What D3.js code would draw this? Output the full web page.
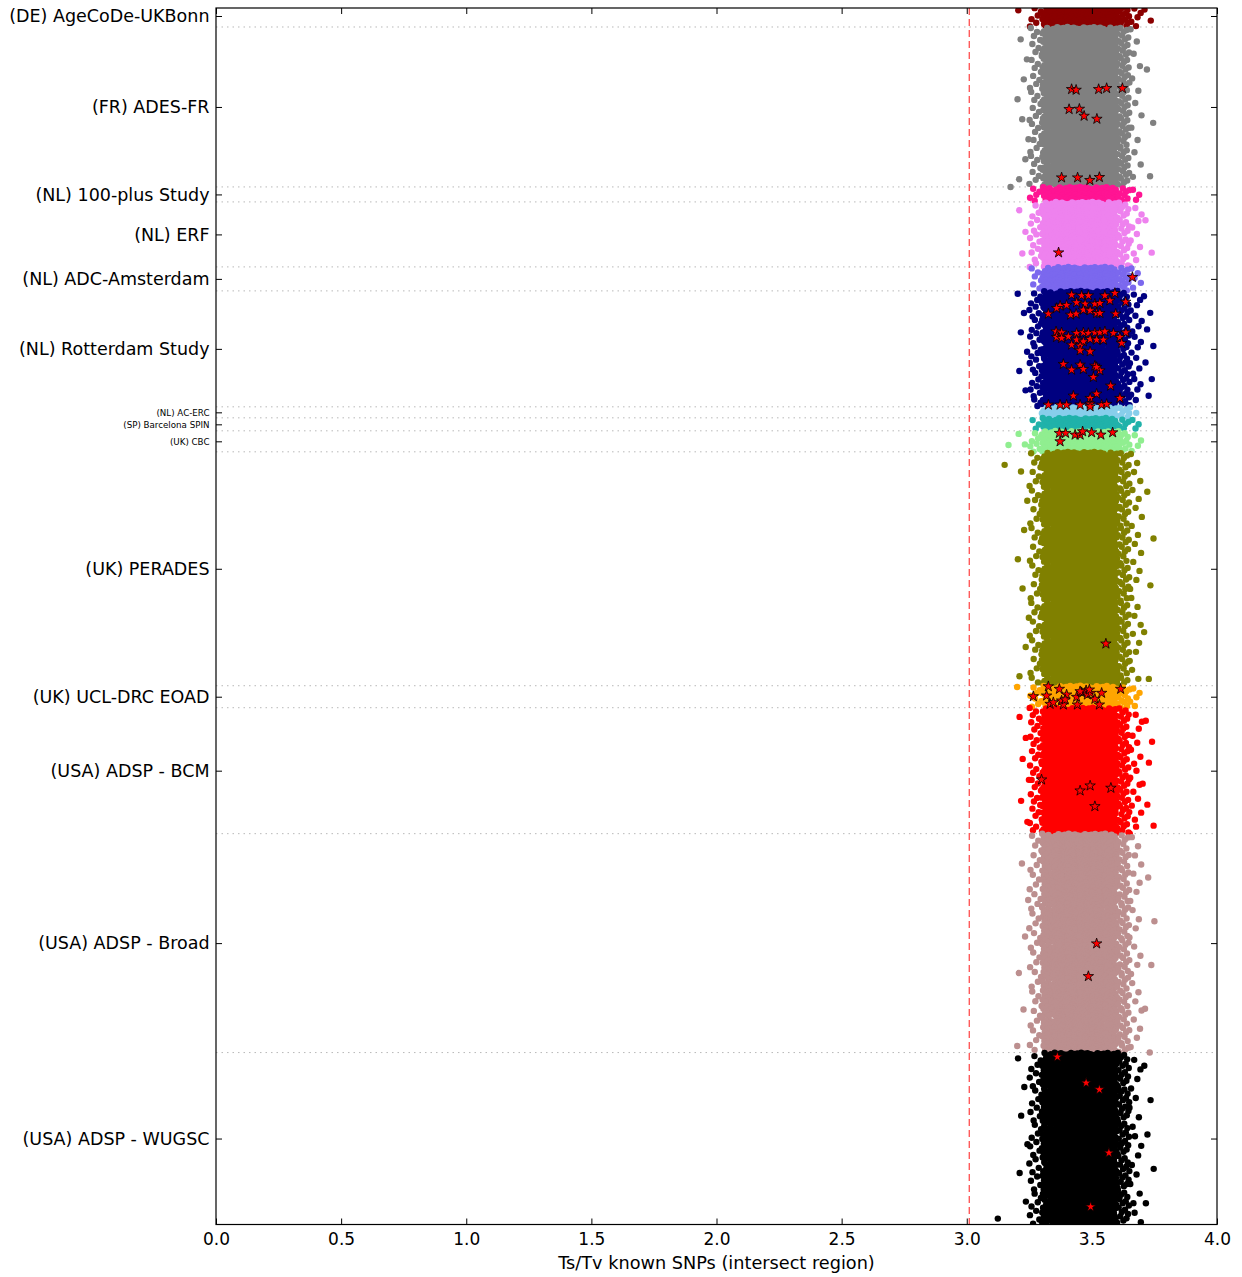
<!DOCTYPE html>
<html>
<head>
<meta charset="utf-8">
<script src="https://cdn.jsdelivr.net/npm/d3@7"></script>
<style>
  body { margin: 0; background: #fff; }
  svg text { font-family: "DejaVu Sans", "Liberation Sans", sans-serif; fill: #000; }
</style>
</head>
<body>
<svg id="chart" width="1242" height="1277"></svg>
<script>
// Sequencing cohorts, top to bottom, with their plotting colours.
const cohorts = [
  "(DE) AgeCoDe-UKBonn", "(FR) ADES-FR", "(NL) 100-plus Study", "(NL) ERF",
  "(NL) ADC-Amsterdam", "(NL) Rotterdam Study", "(NL) AC-ERC", "(SP) Barcelona SPIN",
  "(UK) CBC", "(UK) PERADES", "(UK) UCL-DRC EOAD", "(USA) ADSP - BCM",
  "(USA) ADSP - Broad", "(USA) ADSP - WUGSC"
];
const cohortColors = [
  "#8b0000", "#808080", "#ff1493", "#ee82ee", "#7b68ee", "#000080", "#87ceeb",
  "#20b2aa", "#90ee90", "#808000", "#ffa500", "#ff0000", "#bc8f8f", "#000000"
];
// Cohorts whose names are printed in a small font (very few samples).
const smallLabelCohorts = ["(NL) AC-ERC", "(SP) Barcelona SPIN", "(UK) CBC"];

// Ts/Tv histogram bins (lower edges, bin width 0.05).
const tstvBins = [3.10, 3.15, 3.20, 3.25, 3.30, 3.35, 3.40, 3.45, 3.50, 3.55, 3.60, 3.65, 3.70, 3.75];
const tstvBinWidth = 0.05;
// Number of samples of each cohort falling in each Ts/Tv bin.
const sampleCounts = [
  [0, 0, 1, 6, 18, 30, 38, 40, 38, 28, 14, 5, 2, 0],
  [0, 1, 8, 40, 150, 255, 293, 302, 260, 190, 85, 13, 3, 0],
  [0, 0, 0, 5, 14, 22, 27, 28, 24, 18, 9, 3, 0, 0],
  [0, 0, 3, 18, 60, 100, 121, 126, 105, 75, 30, 10, 2, 0],
  [0, 0, 0, 6, 22, 36, 42, 44, 40, 30, 15, 5, 0, 0],
  [0, 0, 6, 35, 110, 180, 208, 207, 185, 140, 60, 22, 7, 0],
  [0, 0, 0, 0, 10, 18, 22, 22, 18, 12, 6, 2, 0, 0],
  [0, 0, 0, 3, 12, 22, 25, 25, 20, 14, 6, 3, 0, 0],
  [0, 1, 2, 8, 20, 32, 38, 38, 32, 24, 11, 4, 0, 0],
  [0, 1, 8, 50, 200, 380, 450, 460, 400, 260, 100, 26, 5, 0],
  [0, 0, 1, 8, 22, 34, 40, 40, 34, 24, 12, 5, 0, 0],
  [0, 0, 6, 35, 120, 200, 230, 228, 200, 155, 62, 18, 6, 0],
  [0, 0, 6, 45, 190, 350, 423, 432, 370, 245, 100, 24, 5, 0],
  [1, 0, 6, 40, 150, 275, 322, 328, 290, 205, 80, 18, 5, 0]
];

// Flagged samples (stars): Ts/Tv value and overall sample index.
const starTsTv = [
  3.419, 3.437, 3.527, 3.559, 3.622, 3.409, 3.450, 3.469, 3.520, 3.379, 3.443, 3.492, 3.530,
  3.367, 3.662,
  3.419, 3.459, 3.486, 3.552, 3.592, 3.572, 3.635, 3.439, 3.473, 3.512, 3.532, 3.373, 3.399, 3.359,
  3.326, 3.415, 3.437, 3.466, 3.493, 3.519, 3.532, 3.595,
  3.357, 3.379, 3.359, 3.379, 3.406, 3.439, 3.466, 3.486, 3.512, 3.532, 3.552, 3.586, 3.636,
  3.439, 3.466, 3.493, 3.519, 3.546, 3.612,
  3.419, 3.453, 3.619, 3.453, 3.493,
  3.386, 3.453, 3.512, 3.532, 3.419, 3.466, 3.506, 3.519,
  3.575, 3.519, 3.426, 3.493, 3.612,
  3.326, 3.373, 3.399, 3.453, 3.493, 3.493, 3.539, 3.559,
  3.370, 3.395, 3.433, 3.453, 3.463, 3.499, 3.536, 3.583, 3.373,
  3.556,
  3.266, 3.326, 3.370, 3.399, 3.319, 3.333, 3.346, 3.379, 3.386, 3.393, 3.439, 3.442, 3.459,
  3.477, 3.482, 3.495, 3.512, 3.530, 3.539, 3.615, 3.453, 3.490,
  3.299, 3.453, 3.493, 3.576, 3.512,
  3.519, 3.486,
  3.362, 3.477, 3.530, 3.568, 3.495
];
const starSample = [
  843, 850, 843, 833, 833, 1043, 1040, 1110, 1140, 1727, 1727, 1753, 1723,
  2477, 2723,
  2900, 2907, 2907, 2907, 2883, 2957, 2970, 2977, 2990, 2990, 2983, 3010, 3003, 3033,
  3090, 3100, 3090, 3050, 3057, 3083, 3083, 3090,
  3267, 3277, 3323, 3333, 3317, 3283, 3277, 3283, 3277, 3277, 3267, 3283, 3277,
  3350, 3367, 3343, 3350, 3350, 3323,
  3400, 3410, 3383, 3457, 3467,
  3593, 3600, 3610, 3657, 3650, 3643, 3723, 3623,
  3810, 3890, 3910, 3933, 3933,
  4000, 4000, 4000, 4000, 3990, 4017, 4000, 3993,
  4283, 4283, 4300, 4300, 4267, 4277, 4300, 4277, 4367,
  6390,
  6917, 6817, 6843, 6900, 6910, 6993, 6977, 6960, 7000, 6950, 6923, 7000, 6877,
  6857, 6900, 6883, 6943, 7000, 6883, 6843, 6867, 6850,
  7750, 7860, 7810, 7833, 8017,
  9390, 9717,
  10523, 10783, 10850, 11483, 12023
];

const xTicks = [0.0, 0.5, 1.0, 1.5, 2.0, 2.5, 3.0, 3.5, 4.0];
const xDomain = [0, 4];
const yDomainStart = 30;      // first visible sample index
const tstvThreshold = 3.01;   // dashed reference line
const xTitle = "Ts/Tv known SNPs (intersect region)";

// ---- layout ----
const svg = d3.select("#chart");
const plot = { left: 216, right: 1217, top: 8, bottom: 1224.5 };

const cohortSizes = sampleCounts.map(c => d3.sum(c));
const cohortStart = cohortSizes.map((n, i) => d3.sum(cohortSizes.slice(0, i)));
const totalSamples = d3.sum(cohortSizes);

const x = d3.scaleLinear().domain(xDomain).range([plot.left, plot.right]);
const y = d3.scaleLinear().domain([yDomainStart, totalSamples]).range([plot.top, plot.bottom]);

svg.append("defs").append("clipPath").attr("id", "plot-clip")
  .append("rect")
  .attr("x", plot.left).attr("y", plot.top)
  .attr("width", plot.right - plot.left).attr("height", plot.bottom - plot.top);

// dotted separators between cohorts
const boundaries = cohortStart.slice(1);
svg.append("g").attr("clip-path", "url(#plot-clip)")
  .selectAll("line").data(boundaries).join("line")
  .attr("x1", plot.left).attr("x2", plot.right)
  .attr("y1", d => y(d)).attr("y2", d => y(d))
  .attr("stroke", "#b8b8b8").attr("stroke-width", 1)
  .attr("stroke-dasharray", "1.5,4");

// Spread each bin's samples over the cohort's rows (low-discrepancy placement).
function radicalInverse(i) {
  let f = 0.5, r = 0;
  while (i > 0) { r += f * (i & 1); i >>= 1; f *= 0.5; }
  return r;
}
const samples = [];
sampleCounts.forEach((counts, ci) => {
  const n = cohortSizes[ci];
  counts.forEach((cnt, b) => {
    const phase = (b * 0.6180339 + ci * 0.381966) % 1;
    for (let j = 0; j < cnt; j++) {
      const u = (radicalInverse(j) + phase * 0.5) % 1;
      samples.push({
        cohort: ci,
        tstv: tstvBins[b] + u * tstvBinWidth,
        index: cohortStart[ci] + ((j + phase) / cnt) * n
      });
    }
  });
});

const pts = svg.append("g").attr("clip-path", "url(#plot-clip)");
pts.selectAll("circle").data(samples).join("circle")
  .attr("cx", d => x(d.tstv))
  .attr("cy", d => y(d.index))
  .attr("r", 3.2)
  .attr("fill", d => cohortColors[d.cohort]);

// flagged samples
const stars = starTsTv.map((v, i) => ({ tstv: v, index: starSample[i] }));
pts.append("g").selectAll("path").data(stars).join("path")
  .attr("transform", d => `translate(${x(d.tstv)},${y(d.index)})`)
  .attr("d", d3.symbol(d3.symbolStar, 34))
  .attr("fill", "#ff0000")
  .attr("stroke", "#000").attr("stroke-width", 0.8);

// dashed threshold line
svg.append("line")
  .attr("x1", x(tstvThreshold)).attr("x2", x(tstvThreshold))
  .attr("y1", plot.top).attr("y2", plot.bottom)
  .attr("stroke", "#ff4040").attr("stroke-width", 1.2)
  .attr("stroke-dasharray", "7,4");

// ---- axes ----
const tickLen = 6;
const xAxisBottom = d3.axisBottom(x).tickValues(xTicks).tickFormat(d3.format(".1f"))
  .tickSizeInner(-tickLen).tickSizeOuter(0).tickPadding(8);
const gx = svg.append("g").attr("transform", `translate(0,${plot.bottom})`).call(xAxisBottom);
gx.select(".domain").remove();
gx.selectAll("line").attr("stroke", "#000");
gx.selectAll("text").attr("font-size", 17);

const gxTop = svg.append("g").attr("transform", `translate(0,${plot.top})`)
  .call(d3.axisTop(x).tickValues(xTicks).tickSizeInner(-tickLen).tickSizeOuter(0).tickFormat(""));
gxTop.select(".domain").remove();

const cohortMid = cohortStart.map((s, i) => s + cohortSizes[i] / 2);
const yLeft = svg.append("g").attr("transform", `translate(${plot.left},0)`)
  .call(d3.axisLeft(y).tickValues(cohortMid).tickSizeInner(-tickLen).tickSizeOuter(0)
    .tickPadding(6.5).tickFormat((d, i) => cohorts[i]));
yLeft.select(".domain").remove();
yLeft.selectAll("text")
  .attr("font-size", (d, i) => smallLabelCohorts.includes(cohorts[i]) ? 8.7 : 17.5);

const yRight = svg.append("g").attr("transform", `translate(${plot.right},0)`)
  .call(d3.axisRight(y).tickValues(cohortMid).tickSizeInner(-tickLen).tickSizeOuter(0).tickFormat(""));
yRight.select(".domain").remove();

// frame
svg.append("rect")
  .attr("x", plot.left).attr("y", plot.top)
  .attr("width", plot.right - plot.left).attr("height", plot.bottom - plot.top)
  .attr("fill", "none").attr("stroke", "#000").attr("stroke-width", 1.2);

svg.append("text")
  .attr("x", (plot.left + plot.right) / 2).attr("y", 1269)
  .attr("text-anchor", "middle").attr("font-size", 17.7)
  .text(xTitle);
</script>
</body>
</html>
